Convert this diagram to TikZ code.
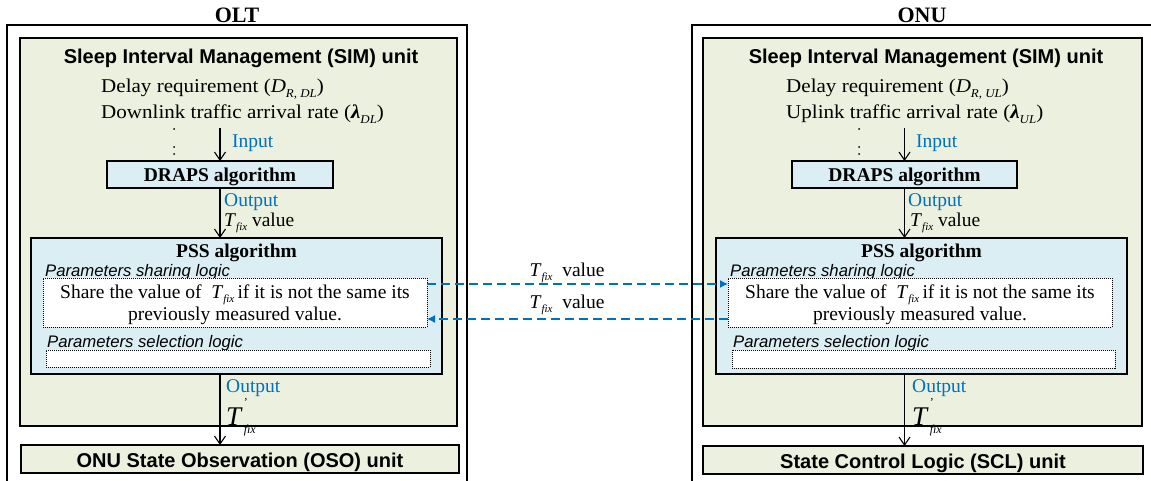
\documentclass[tikz,border=0pt]{standalone}
\usepackage{fontspec}
\setmainfont{Liberation Serif}
\setsansfont{Liberation Sans}
\usetikzlibrary{arrows.meta,calc}
\definecolor{simgreen}{RGB}{235,241,222}
\definecolor{algblue}{RGB}{218,238,243}
\definecolor{wblue}{RGB}{0,112,192}
\newcommand{\sz}[1]{\fontsize{#1}{#1}\selectfont}
\newcommand{\Tfix}{\textit{T}\raisebox{-0.5ex}{\sz{11}\textit{fix}}}
\newcommand{\Tfixp}{{\sz{27}\textit{T}}\kern1pt\rlap{\raisebox{2.1ex}{\sz{12}'}}\raisebox{-0.9ex}{\sz{12}\textit{fix}}}
\newcommand{\wide}[1]{\scalebox{1.08}[1]{#1}}
\tikzset{
  outerbox/.style={draw, line width=1.5pt, anchor=north west, inner sep=0pt, outer sep=0pt},
  simbox/.style={draw, line width=1.1pt, fill=simgreen, anchor=north west, inner sep=0pt, outer sep=0pt},
  algbox/.style={draw, line width=1.1pt, fill=algblue, anchor=north west, inner sep=0pt, outer sep=0pt},
  dotbox/.style={draw, densely dotted, line width=1pt, fill=white, anchor=north west, inner sep=0pt, outer sep=0pt},
  txt/.style={inner sep=0pt, font=\sz{19.5}},
  btxt/.style={inner sep=0pt, font=\sz{19.5}\bfseries},
  stitle/.style={inner sep=0pt, font=\sffamily\bfseries\sz{20}},
  itxt/.style={inner sep=0pt, font=\sffamily\itshape\sz{16.7}},
  bluetxt/.style={inner sep=0pt, font=\sz{19.5}, text=wblue},
  arr/.style={line width=1.1pt, -{Straight Barb[length=8pt,width=11pt]}},
  darr/.style={wblue, line width=1.3pt, dash pattern=on 9pt off 5pt, -{Latex[length=8pt,width=8pt]}},
  dotmark/.style={circle, fill=black, inner sep=0pt, minimum size=2pt}
}
\begin{document}
\begin{tikzpicture}[x=1pt,y=-1pt]
\useasboundingbox (0,0) rectangle (1151,481);
% ---------- OLT ----------
\node[btxt, font=\sz{22}\bfseries, anchor=base] (oltT) at (237,23) {OLT};
\node[outerbox, minimum width=460pt, minimum height=470pt] (olt) at (7,25) {};
\node[simbox, minimum width=437pt, minimum height=388pt] (sim1) at (20,38) {};
\node[stitle, anchor=base] (simT1) at (241,64) {Sleep Interval Management (SIM) unit};
\node[txt, anchor=base west] (dr1) at (101,93) {\wide{Delay requirement (\textit{D}\raisebox{-0.5ex}{\sz{12}\textit{R, DL}})}};
\node[txt, anchor=base west] (dl1) at (101,119) {\wide{Downlink traffic arrival rate (\textbf{\textit{λ}}\raisebox{-0.5ex}{\sz{12}\textit{DL}})}};
\node[dotmark] (d11) at (174,129) {};
\node[dotmark] (d12) at (174,147) {};
\node[dotmark] (d13) at (174,154) {};
\node[algbox, minimum width=226pt, minimum height=27pt] (dra1) at (107,161) {};
\node[btxt, anchor=base] (dra1T) at (dra1.center |- 0,182) {DRAPS algorithm};
\coordinate (in1) at (dra1.north |- 0,128);
\draw[arr] (in1) -- (dra1.north);
\node[bluetxt, anchor=base west] (inL1) at (232,148) {Input};
\node[algbox, minimum width=411pt, minimum height=136pt] (pss1) at (31,238) {};
\draw[arr] (dra1.south) -- (dra1.south |- pss1.north);
\node[bluetxt, anchor=base west] (outL1) at (224,207) {Output};
\node[txt, anchor=base west] (tv1) at (224,226) {\Tfix\ value};
\node[btxt, anchor=base] (pssT1) at (pss1.center |- 0,258) {PSS algorithm};
\node[itxt, anchor=base west] (shL1) at (45,276) {Parameters sharing logic};
\node[dotbox, minimum width=384pt, minimum height=49pt] (sh1) at (43,278) {};
\node[txt, anchor=base] (sh1a) at (sh1.center |- 0,298) {Share the value of \ \Tfix\,if it is not the same its};
\node[txt, anchor=base] (sh1b) at (sh1.center |- 0,320) {previously measured value.};
\node[itxt, anchor=base west] (seL1) at (47,347) {Parameters selection logic};
\node[dotbox, minimum width=384pt, minimum height=17pt] (sel1) at (46,350) {};
\node[simbox, minimum width=438pt, minimum height=28pt] (oso) at (21,445) {};
\node[stitle, anchor=base] (osoT) at (oso.center |- 0,467) {ONU State Observation (OSO) unit};
\draw[arr] (dra1.south |- pss1.south) -- (dra1.south |- oso.north);
\node[bluetxt, anchor=base west] (outL1b) at (226,392) {Output};
\node[txt, anchor=base west] (tp1) at (226,425) {\Tfixp};
% ---------- ONU ----------
\node[btxt, font=\sz{22}\bfseries, anchor=base] (onuT) at (922,23) {ONU};
\node[outerbox, minimum width=470pt, minimum height=470pt] (onu) at (692,25) {};
\node[simbox, minimum width=439pt, minimum height=388pt] (sim2) at (703,38) {};
\node[stitle, anchor=base] (simT2) at (926,64) {Sleep Interval Management (SIM) unit};
\node[txt, anchor=base west] (dr2) at (786,93) {\wide{Delay requirement (\textit{D}\raisebox{-0.5ex}{\sz{12}\textit{R, UL}})}};
\node[txt, anchor=base west] (ul2) at (786,119) {\wide{Uplink traffic arrival rate (\textbf{\textit{λ}}\raisebox{-0.5ex}{\sz{12}\textit{UL}})}};
\node[dotmark] (d21) at (859,129) {};
\node[dotmark] (d22) at (859,147) {};
\node[dotmark] (d23) at (859,154) {};
\node[algbox, minimum width=225pt, minimum height=27pt] (dra2) at (792,161) {};
\node[btxt, anchor=base] (dra2T) at (dra2.center |- 0,182) {DRAPS algorithm};
\coordinate (in2) at (dra2.north |- 0,128);
\draw[arr] (in2) -- (dra2.north);
\node[bluetxt, anchor=base west] (inL2) at (916,148) {Input};
\node[algbox, minimum width=411pt, minimum height=136pt] (pss2) at (716,238) {};
\draw[arr] (dra2.south) -- (dra2.south |- pss2.north);
\node[bluetxt, anchor=base west] (outL2) at (908,207) {Output};
\node[txt, anchor=base west] (tv2) at (910,226) {\Tfix\ value};
\node[btxt, anchor=base] (pssT2) at (pss2.center |- 0,258) {PSS algorithm};
\node[itxt, anchor=base west] (shL2) at (730,276) {Parameters sharing logic};
\node[dotbox, minimum width=384pt, minimum height=49pt] (sh2) at (728,278) {};
\node[txt, anchor=base] (sh2a) at (sh2.center |- 0,298) {Share the value of \ \Tfix\,if it is not the same its};
\node[txt, anchor=base] (sh2b) at (sh2.center |- 0,320) {previously measured value.};
\node[itxt, anchor=base west] (seL2) at (733,347) {Parameters selection logic};
\node[dotbox, minimum width=383pt, minimum height=18pt] (sel2) at (732,350) {};
\node[simbox, minimum width=440pt, minimum height=28pt] (scl) at (703,446) {};
\node[stitle, anchor=base] (sclT) at (scl.center |- 0,468) {State Control Logic (SCL) unit};
\draw[arr] (dra2.south |- pss2.south) -- (dra2.south |- scl.north);
\node[bluetxt, anchor=base west] (outL2b) at (912,392) {Output};
\node[txt, anchor=base west] (tp2) at (912,425) {\Tfixp};
% ---------- exchange ----------
\draw[darr] ($(sh1.north east)!0.122!(sh1.south east)$) -- ($(sh2.north west)!0.122!(sh2.south west)$);
\draw[darr] ($(sh2.north west)!0.837!(sh2.south west)$) -- ($(sh1.north east)!0.837!(sh1.south east)$);
\node[txt, anchor=base] (x1) at (567,276) {\Tfix\ \ value};
\node[txt, anchor=base] (x2) at (567,308) {\Tfix\ \ value};
\end{tikzpicture}
\end{document}
